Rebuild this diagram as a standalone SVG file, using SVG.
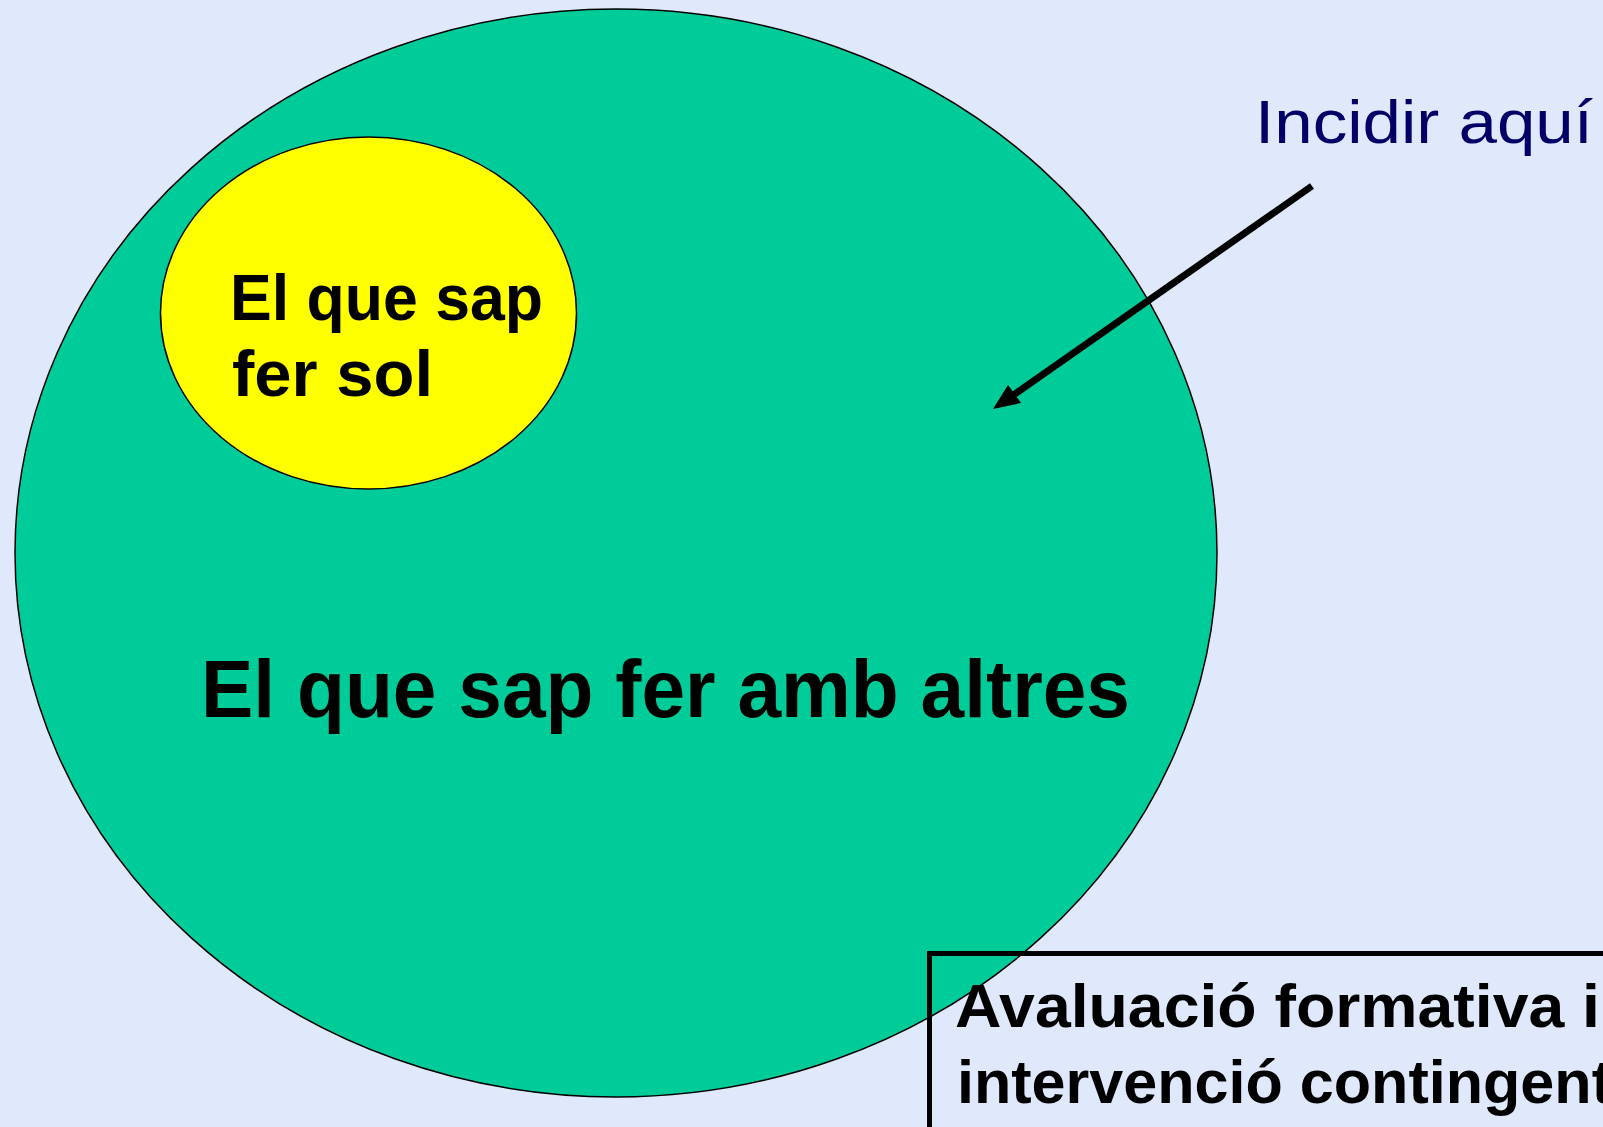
<svg xmlns="http://www.w3.org/2000/svg" width="1603" height="1127" viewBox="0 0 1603 1127">
  <style>
    .shape { stroke: #000000; stroke-width: 1.5; }
    .bold { font-family: "Liberation Sans", "DejaVu Sans", sans-serif; font-weight: bold; fill: #000000; }
    .note { font-family: "Liberation Sans", "DejaVu Sans", sans-serif; font-weight: normal; fill: #000066; }
    .conn { stroke: #000000; stroke-width: 7; fill: none; }
  </style>
  <rect id="background" x="0" y="0" width="1603" height="1127" fill="#E0E8FC"/>

  <g id="node-altres">
    <ellipse class="shape" cx="616" cy="553" rx="601" ry="544" fill="#00CC99"/>
    <text class="bold" x="201" y="717" font-size="82" textLength="929" lengthAdjust="spacingAndGlyphs">El que sap fer amb altres</text>
  </g>

  <g id="node-sol">
    <ellipse class="shape" cx="368.5" cy="313" rx="208" ry="176" fill="#FFFF00"/>
    <text class="bold" x="230" y="320" font-size="64" textLength="313" lengthAdjust="spacingAndGlyphs">El que sap</text>
    <text class="bold" x="232" y="396" font-size="64" textLength="201" lengthAdjust="spacingAndGlyphs">fer sol</text>
  </g>

  <g id="node-incidir">
    <text class="note" x="1255" y="143" font-size="62" textLength="338" lengthAdjust="spacingAndGlyphs">Incidir aquí</text>
  </g>

  <g id="node-avaluacio">
    <rect x="929.5" y="953.5" width="700" height="200" fill="none" stroke="#000000" stroke-width="5"/>
    <text class="bold" x="955" y="1027" font-size="62" textLength="645" lengthAdjust="spacingAndGlyphs">Avaluació formativa i</text>
    <text class="bold" x="957" y="1103" font-size="62" textLength="655" lengthAdjust="spacingAndGlyphs">intervenció contingent</text>
  </g>

  <g id="connectors">
    <line class="conn" x1="1312" y1="186" x2="1012" y2="396"/>
    <polygon points="993,409 1008,385 1021,403" fill="#000000"/>
  </g>
</svg>
